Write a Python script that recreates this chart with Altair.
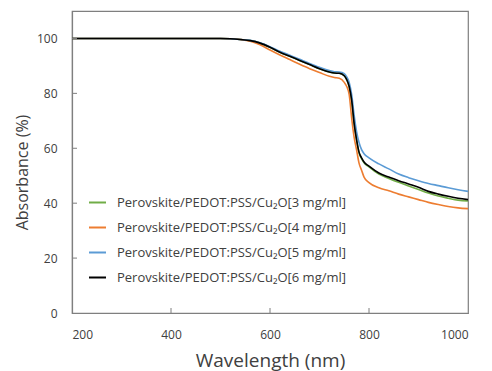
import altair as alt
import pandas as pd

wavelength = [200, 300, 400, 500, 520, 540, 560, 580, 600, 620, 640, 660, 680, 700, 720, 730,
              740, 750, 755, 760, 765, 770, 775, 780, 785, 790, 800, 820, 840, 860, 880,
              900, 920, 940, 960, 980, 1000]

abs_3 = [100, 100, 100, 100, 99.9, 99.6, 99.2, 98.3, 96.8, 95.0, 93.5, 92.0, 90.5, 89.0, 87.8, 87.4,
         87.3, 86.4, 85.0, 82.5, 77.5, 69.0, 63.0, 58.3, 56.2, 54.7, 53.2, 50.6, 49.0, 47.6, 46.3,
         45.0, 43.7, 42.6, 41.8, 41.1, 40.8]
abs_4 = [100, 100, 100, 100, 99.9, 99.6, 99.0, 97.7, 95.8, 94.0, 92.3, 90.6, 89.0, 87.6, 86.2, 85.8,
         85.5, 84.0, 82.5, 79.5, 71.0, 64.0, 59.3, 54.5, 52.0, 49.5, 47.5, 45.6, 44.5, 43.3, 42.3,
         41.3, 40.3, 39.5, 38.8, 38.3, 38.0]
abs_5 = [100, 100, 100, 100, 99.9, 99.6, 99.3, 98.4, 97.0, 95.3, 93.9, 92.4, 90.9, 89.5, 88.3, 87.9,
         87.8, 87.2, 86.0, 84.0, 79.5, 72.0, 66.0, 62.0, 59.5, 58.0, 56.5, 54.3, 52.5, 50.6, 49.3,
         48.2, 47.2, 46.4, 45.6, 44.9, 44.3]
abs_6 = [100, 100, 100, 100, 99.9, 99.6, 99.2, 98.3, 96.8, 95.0, 93.5, 92.0, 90.5, 89.0, 87.8, 87.4,
         87.3, 86.4, 85.0, 82.5, 77.5, 69.0, 63.0, 58.5, 56.5, 55.0, 53.5, 51.0, 49.5, 48.2, 47.0,
         45.8, 44.3, 43.3, 42.5, 41.8, 41.3]

series_names = [
    "Perovskite/PEDOT:PSS/Cu₂O[3 mg/ml]",
    "Perovskite/PEDOT:PSS/Cu₂O[4 mg/ml]",
    "Perovskite/PEDOT:PSS/Cu₂O[5 mg/ml]",
    "Perovskite/PEDOT:PSS/Cu₂O[6 mg/ml]",
]
series_colors = ["#70AD47", "#ED7D31", "#5B9BD5", "#000000"]

x_ticks = [200, 400, 600, 800, 1000]
y_ticks = [0, 20, 40, 60, 80, 100]

rows = []
for name, vals in zip(series_names, [abs_3, abs_4, abs_5, abs_6]):
    for w, v in zip(wavelength, vals):
        rows.append({"Wavelength": w, "Absorbance": v, "Series": name})
df = pd.DataFrame(rows)

FONT = "Open Sans"
W, H = 396, 302

xscale = alt.Scale(domain=[200, 1000], nice=False)
yscale = alt.Scale(domain=[0, 110], nice=False)

lines = alt.Chart(df).mark_line(strokeWidth=1.6, interpolate="monotone").encode(
    x=alt.X("Wavelength:Q", scale=xscale,
            axis=alt.Axis(values=x_ticks, format="d", title="Wavelength (nm)", ticks=False,
                          labelPadding=16, titlePadding=11, titleFontSize=19, grid=False)),
    y=alt.Y("Absorbance:Q", scale=yscale,
            axis=alt.Axis(values=y_ticks, format="d", title="Absorbance (%)", ticks=False,
                          labelPadding=15, grid=False, titleX=-50, titleY=161,
                          titleFontSize=16, titleBaseline="middle")),
    color=alt.Color("Series:N",
                    scale=alt.Scale(domain=series_names, range=series_colors),
                    legend=alt.Legend(orient="none", legendX=16, legendY=182, title=None,
                                      symbolType="stroke", symbolSize=289,
                                      symbolStrokeWidth=2, labelOffset=10,
                                      rowPadding=8, labelFontSize=13, labelFont=FONT,
                                      labelColor="#404040", labelLimit=400)),
)

ytick_df = pd.DataFrame({"v": y_ticks[1:]})
yticks = alt.Chart(ytick_df).mark_rule(color="#7f7f7f").encode(
    y=alt.Y("v:Q", scale=yscale), x=alt.value(0), x2=alt.value(5))
xtick_df = pd.DataFrame({"v": x_ticks[1:-1]})
xticks = alt.Chart(xtick_df).mark_rule(color="#7f7f7f").encode(
    x=alt.X("v:Q", scale=xscale), y=alt.value(H), y2=alt.value(H - 5))

chart = alt.layer(lines, yticks, xticks).properties(
    width=W, height=H,
    autosize=alt.AutoSizeParams(type="none"),
    padding={"left": 64, "top": 3, "right": 16, "bottom": 58},
).configure_view(stroke="#7f7f7f", strokeWidth=1.2).configure_axis(
    domainColor="#7f7f7f", labelFont=FONT, titleFont=FONT, labelFontSize=12,
    labelColor="#404040", titleColor="#404040", titleFontWeight="normal",
    domainWidth=1.2,
)

chart.save("out.html", embed_options={"renderer": "svg", "actions": False})
